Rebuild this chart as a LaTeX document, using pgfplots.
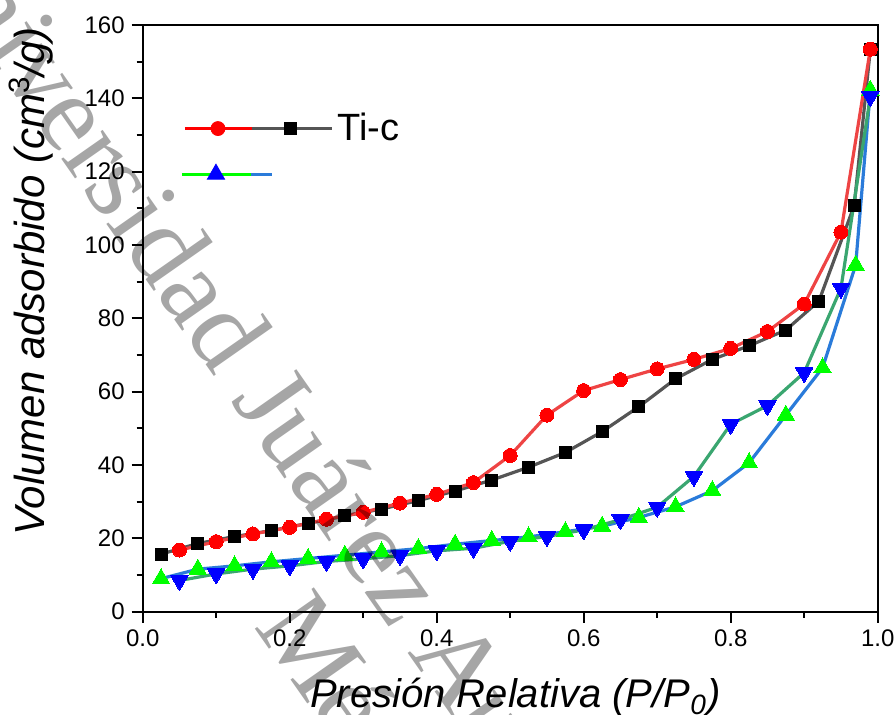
\documentclass[border=0pt]{standalone}
\usepackage{fontspec}
\setmainfont{Liberation Sans}
\newfontfamily\wmfont{Liberation Serif}
\usepackage{pgfplots}
\pgfplotsset{compat=1.18}
\definecolor{redline}{HTML}{EE4444}
\definecolor{grayline}{HTML}{555555}
\definecolor{blueline}{HTML}{2A7BDA}
\definecolor{sealine}{HTML}{3AA670}
\definecolor{mgreen}{HTML}{00FF00}
\definecolor{mblue}{HTML}{0000FF}
\begin{document}
\begin{tikzpicture}
\begin{axis}[
  scale only axis, width=367.5pt, height=293.35pt,
  xmin=0, xmax=1, ymin=0, ymax=160,
  xtick={0,0.2,0.4,0.6,0.8,1.0}, ytick={0,20,...,160},
  minor x tick num=1, minor y tick num=1,
  xtick pos=bottom, ytick pos=left,
  tick align=outside,
  major tick length=5.5pt, minor tick length=3pt,
  axis line style={line width=1pt},
  every tick/.style={line width=1pt, black},
  tick label style={font=\fontsize{12}{14}\selectfont},
  /pgf/number format/assume math mode=true,
  xticklabel style={/pgf/number format/.cd, fixed, fixed zerofill, precision=1},
  label style={font=\fontsize{20}{24}\selectfont\itshape},
  xlabel={Presión Relativa (P/P$_{\mathit 0}$)},
  ylabel={Volumen adsorbido (cm$^{\mathrm 3}$/g)},
  xlabel style={at={(axis description cs:0.507,0)}, anchor=base, yshift=-48.15pt},
  ylabel style={at={(axis description cs:-0.133,0.563)}, anchor=base, rotate=0,
    font=\fontsize{21}{24}\selectfont\itshape},
  legend style={draw=none, fill=none, at={(axis description cs:0.0507,0.857)}, anchor=north west,
    inner sep=0pt, font=\fontsize{19}{22}\selectfont, row sep=8pt},
  legend cell align=left,
]
\addlegendimage{legend image code/.code={
  \draw[red, line width=1.6pt] (0pt,0pt) -- (33.5pt,0pt);
  \draw[grayline, line width=1.6pt] (33.5pt,0pt) -- (73.5pt,0pt);
  \fill[red] (16.5pt,0pt) circle (3.5pt);
  \fill[black] (49.5pt,-3pt) rectangle (55.5pt,3pt);
}}
\addlegendentry{Ti-c}
\addlegendimage{legend image code/.code={
  \draw[mgreen, line width=1.6pt] (-1.5pt,0pt) -- (33pt,0pt);
  \draw[blueline, line width=1.6pt] (33pt,0pt) -- (43.5pt,0pt);
  \fill[mblue] (15.5pt,5pt) -- (11.2pt,-2.5pt) -- (19.8pt,-2.5pt) -- cycle;
}}
\addlegendentry{}

% black squares, gray line
\addplot[grayline, line width=1.6pt, mark=square*, mark size=3pt,
  mark options={fill=black, draw=black, line width=0pt}] coordinates {
(0.025,15.7) (0.075,18.6) (0.125,20.5) (0.175,22.1) (0.225,24.1) (0.275,26.1)
(0.325,28.0) (0.375,30.3) (0.425,32.9) (0.475,35.9) (0.525,39.4) (0.575,43.4)
(0.625,49.1) (0.675,55.9) (0.725,63.5) (0.775,68.8) (0.825,72.5) (0.875,76.8)
(0.92,84.7) (0.968,110.7) (0.99,153.4)};
% red circles, red line
\addplot[redline, line width=1.6pt, mark=*, mark size=3.5pt,
  mark options={fill=red, draw=red, line width=0pt}] coordinates {
(0.05,16.8) (0.10,19.1) (0.15,21.2) (0.20,23.0) (0.25,25.2) (0.30,27.1)
(0.35,29.6) (0.40,32.0) (0.45,35.2) (0.50,42.6) (0.55,53.6) (0.60,60.3)
(0.65,63.3) (0.70,66.2) (0.75,68.8) (0.80,71.8) (0.85,76.4) (0.90,83.9)
(0.95,103.5) (0.99,153.4)};
% green up triangles, blue line
\addplot[blueline, line width=1.6pt, mark=triangle*, mark size=5pt,
  mark options={fill=mgreen, draw=mgreen, line width=0pt}] coordinates {
(0.025,9.0) (0.075,11.6) (0.125,12.5) (0.175,13.6) (0.225,14.5) (0.275,15.4)
(0.325,16.3) (0.375,17.2) (0.425,18.4) (0.475,19.4) (0.525,20.4) (0.575,21.8)
(0.625,23.3) (0.675,25.7) (0.725,28.6) (0.775,33.0) (0.825,40.6) (0.875,53.6)
(0.925,66.5) (0.97,94.5) (0.99,142.2)};
% blue down triangles, green line
\addplot[sealine, line width=1.6pt, mark=triangle*, mark size=5pt,
  mark options={fill=mblue, draw=mblue, line width=0pt, rotate=180}] coordinates {
(0.05,8.5) (0.10,10.3) (0.15,11.6) (0.20,12.5) (0.25,13.7) (0.30,14.4)
(0.35,15.3) (0.40,16.6) (0.45,17.3) (0.50,19.2) (0.55,20.5) (0.60,22.3)
(0.65,25.1) (0.70,28.5) (0.75,36.9) (0.80,51.1) (0.85,56.2) (0.90,65.2)
(0.95,88.2) (0.99,140.5)};
\end{axis}
\node[rotate=-55, anchor=base west, inner sep=0pt, text=black, text opacity=0.35,
  font=\wmfont\fontsize{55}{55}\selectfont] at (-118.35pt,337.35pt)
  {Universidad Juárez Autónoma de Tabasco};
\node[rotate=-55, anchor=base west, inner sep=0pt, text=black, text opacity=0.35,
  font=\wmfont\fontsize{55}{55}\selectfont] at (55.15pt,-7.15pt) {México};
\pgfresetboundingbox
\path[use as bounding box] (-71.35pt,-51.65pt) rectangle (376.65pt,305.85pt);
\end{tikzpicture}
\end{document}
